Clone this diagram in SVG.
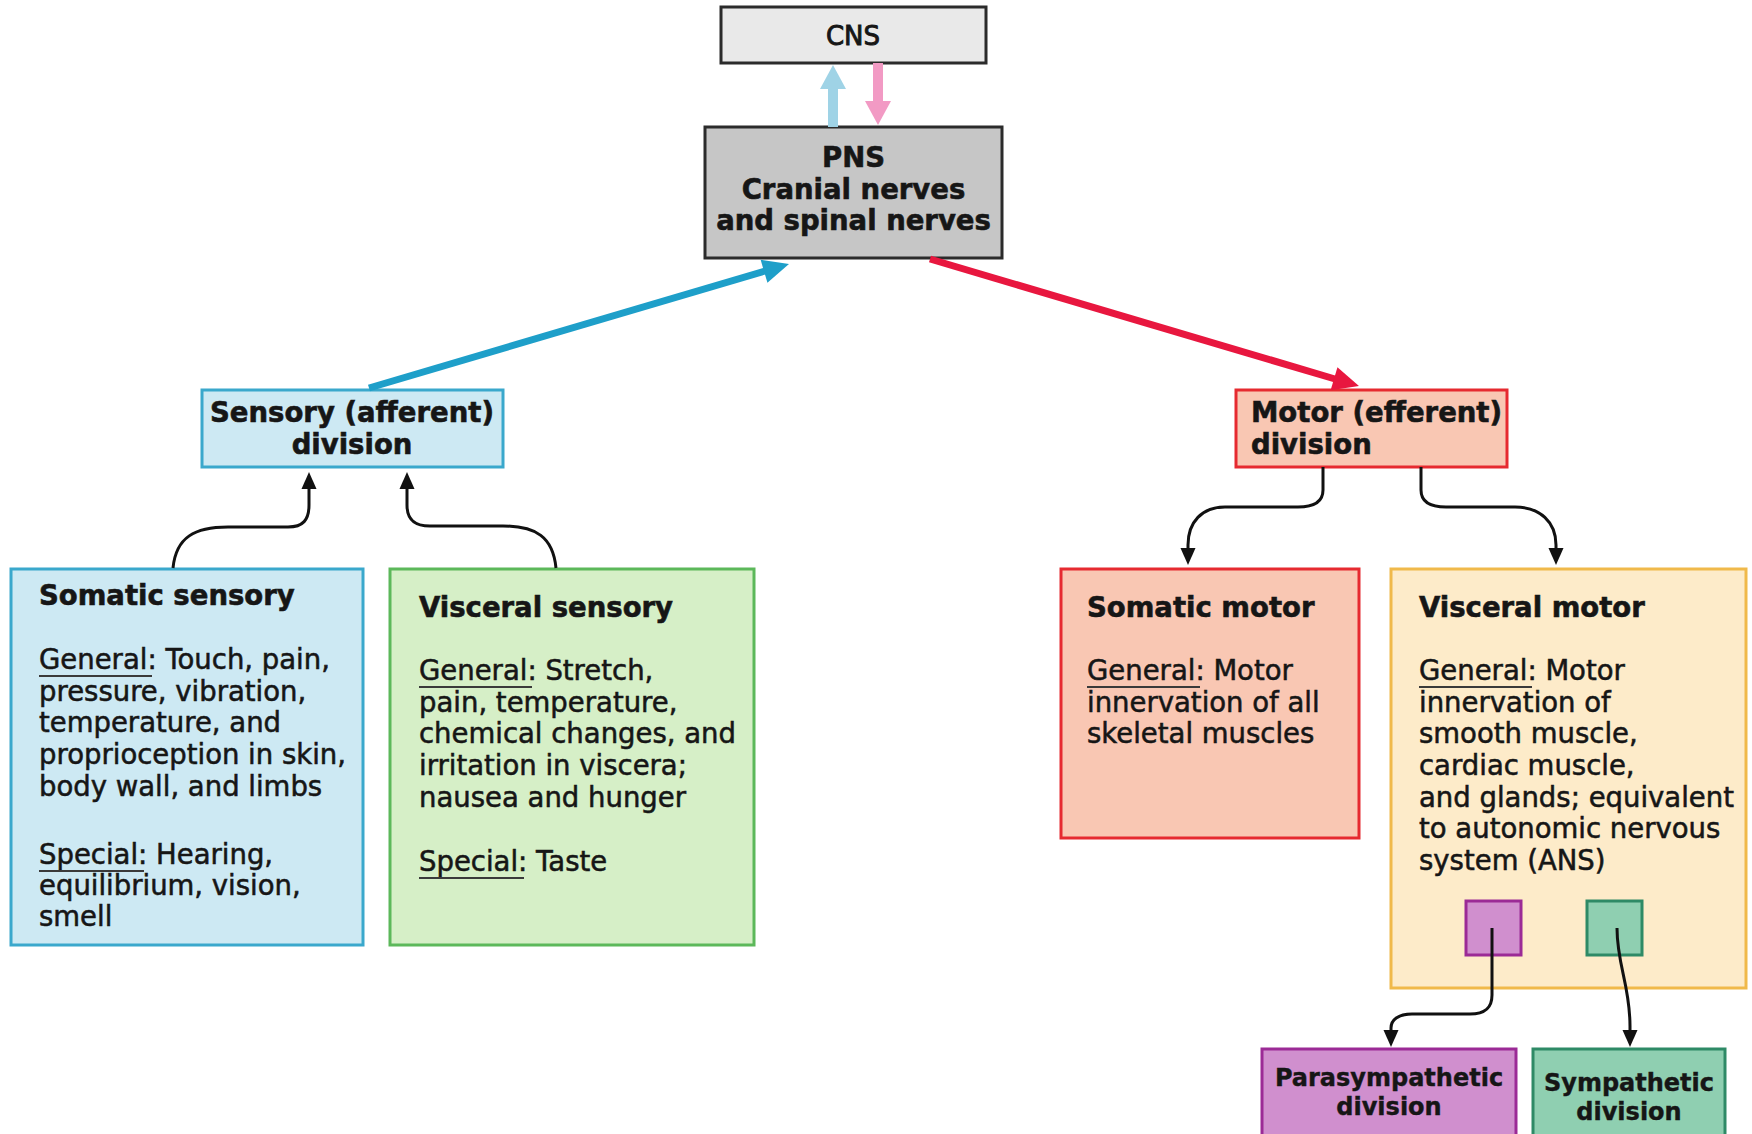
<svg xmlns="http://www.w3.org/2000/svg" width="1752" height="1134" viewBox="0 0 1752 1134">
<style>
.t{font-family:"DejaVu Sans","Liberation Sans",sans-serif;fill:#161616}
.b{font-weight:bold;font-size:27.5px;stroke:#161616;stroke-width:0.6}
.r{font-size:27.5px;stroke:#161616;stroke-width:0.55}
.s{font-weight:bold;font-size:24px;stroke:#161616;stroke-width:0.4}
.c{text-anchor:middle}
.conn{fill:none;stroke:#111;stroke-width:3}
.ul{stroke:#3a3a3a;stroke-width:2.2}
.box{stroke-width:3}
</style>
<defs>
<marker id="ah" markerUnits="userSpaceOnUse" markerWidth="18" markerHeight="16" refX="1" refY="7.5" orient="auto" overflow="visible"><path d="M0,0 L17,7.5 L0,15 z" fill="#111"/></marker>
<marker id="ahBlue" markerUnits="userSpaceOnUse" markerWidth="28" markerHeight="24" refX="1" refY="12" orient="auto" overflow="visible"><path d="M0,0 L26,12 L0,24 z" fill="#1e9fc9"/></marker>
<marker id="ahRed" markerUnits="userSpaceOnUse" markerWidth="28" markerHeight="24" refX="1" refY="12" orient="auto" overflow="visible"><path d="M0,0 L26,12 L0,24 z" fill="#e8173f"/></marker>
</defs>
<rect width="1752" height="1134" fill="#ffffff"/>

<g id="cns">
<rect class="box" x="721" y="7" width="265" height="56" fill="#e9e9e9" stroke="#2b2b2b"/>
<text class="t c" x="853" y="45" font-size="26" stroke="#161616" stroke-width="0.9">CNS</text>
</g>

<g id="pns">
<rect class="box" x="705" y="127" width="297" height="131" fill="#c6c6c6" stroke="#2b2b2b"/>
<text class="t b c" x="853.5" y="167">PNS</text>
<text class="t b c" x="853.5" y="199">Cranial nerves</text>
<text class="t b c" x="853.5" y="230">and spinal nerves</text>
</g>

<g id="sensory">
<rect class="box" x="202" y="390" width="301" height="77" fill="#cde9f3" stroke="#3aa8cc"/>
<text class="t b c" x="352" y="422">Sensory (afferent)</text>
<text class="t b c" x="352" y="454">division</text>
</g>

<g id="motor">
<rect class="box" x="1236" y="390" width="271" height="77" fill="#f9c7b3" stroke="#e62a30"/>
<text class="t b" x="1251" y="422">Motor (efferent)</text>
<text class="t b" x="1251" y="454">division</text>
</g>

<g id="somatic-sensory">
<rect class="box" x="11" y="569" width="352" height="376" fill="#cde9f3" stroke="#3aa8cc"/>
<text class="t b" x="39" y="605">Somatic sensory</text>
<text class="t r" x="39" y="669">General: Touch, pain,</text>
<text class="t r" x="39" y="701">pressure, vibration,</text>
<text class="t r" x="39" y="732">temperature, and</text>
<text class="t r" x="39" y="764">proprioception in skin,</text>
<text class="t r" x="39" y="796">body wall, and limbs</text>
<text class="t r" x="39" y="864">Special: Hearing,</text>
<text class="t r" x="39" y="895">equilibrium, vision,</text>
<text class="t r" x="39" y="926">smell</text>
<line class="ul" x1="39" y1="676" x2="152" y2="676"/>
<line class="ul" x1="39" y1="871" x2="144" y2="871"/>
</g>

<g id="visceral-sensory">
<rect class="box" x="390" y="569" width="364" height="376" fill="#d6efc7" stroke="#5cb85a"/>
<text class="t b" x="419" y="617">Visceral sensory</text>
<text class="t r" x="419" y="680">General: Stretch,</text>
<text class="t r" x="419" y="712">pain, temperature,</text>
<text class="t r" x="419" y="743">chemical changes, and</text>
<text class="t r" x="419" y="775">irritation in viscera;</text>
<text class="t r" x="419" y="807">nausea and hunger</text>
<text class="t r" x="419" y="871">Special: Taste</text>
<line class="ul" x1="419" y1="687" x2="532" y2="687"/>
<line class="ul" x1="419" y1="878" x2="524" y2="878"/>
</g>

<g id="somatic-motor">
<rect class="box" x="1061" y="569" width="298" height="269" fill="#f9c7b3" stroke="#e62a30"/>
<text class="t b" x="1087" y="617">Somatic motor</text>
<text class="t r" x="1087" y="680">General: Motor</text>
<text class="t r" x="1087" y="712">innervation of all</text>
<text class="t r" x="1087" y="743">skeletal muscles</text>
<line class="ul" x1="1087" y1="687" x2="1200" y2="687"/>
</g>

<g id="visceral-motor">
<rect class="box" x="1391" y="569" width="355" height="419" fill="#fdebc9" stroke="#f0b94a"/>
<text class="t b" x="1419" y="617">Visceral motor</text>
<text class="t r" x="1419" y="680">General: Motor</text>
<text class="t r" x="1419" y="712">innervation of</text>
<text class="t r" x="1419" y="743">smooth muscle,</text>
<text class="t r" x="1419" y="775">cardiac muscle,</text>
<text class="t r" x="1419" y="807">and glands; equivalent</text>
<text class="t r" x="1419" y="838">to autonomic nervous</text>
<text class="t r" x="1419" y="870">system (ANS)</text>
<line class="ul" x1="1419" y1="687" x2="1532" y2="687"/>
<rect class="box" x="1466" y="901" width="55" height="54" fill="#d08fce" stroke="#9b2a96"/>
<rect class="box" x="1587" y="901" width="55" height="54" fill="#8fcfb1" stroke="#2e8a66"/>
</g>

<g id="parasympathetic">
<rect class="box" x="1262" y="1049" width="254" height="95" fill="#d08fce" stroke="#9b2a96"/>
<text class="t s c" x="1389" y="1086">Parasympathetic</text>
<text class="t s c" x="1389" y="1115">division</text>
</g>

<g id="sympathetic">
<rect class="box" x="1533" y="1049" width="192" height="95" fill="#8fcfb1" stroke="#2e8a66"/>
<text class="t s c" x="1629" y="1091">Sympathetic</text>
<text class="t s c" x="1629" y="1120">division</text>
</g>

<g id="connectors">
<rect x="828" y="86" width="10" height="41" fill="#9fd3e6"/>
<polygon points="820,89 846,89 833,65" fill="#9fd3e6"/>
<rect x="873" y="63" width="10" height="41" fill="#f29ac4"/>
<polygon points="865,101 891,101 878,125" fill="#f29ac4"/>
<line x1="369" y1="388" x2="765" y2="271" stroke="#1e9fc9" stroke-width="7" marker-end="url(#ahBlue)"/>
<line x1="930" y1="259" x2="1335" y2="379" stroke="#e8173f" stroke-width="7" marker-end="url(#ahRed)"/>
<path class="conn" d="M173,568 C176,537 195,527 228,527 L288,527 C303,527 309,520 309,505 L309,488" marker-end="url(#ah)"/>
<path class="conn" d="M556,568 C553,537 536,526 503,526 L430,526 C414,526 407,519 407,505 L407,488" marker-end="url(#ah)"/>
<path class="conn" d="M1323,467 L1323,490 C1323,502 1314,507 1298,507 L1225,507 C1202,507 1188,522 1188,545 L1188,549" marker-end="url(#ah)"/>
<path class="conn" d="M1421,467 L1421,490 C1421,502 1430,507 1446,507 L1515,507 C1540,507 1556,522 1556,545 L1556,549" marker-end="url(#ah)"/>
<path class="conn" d="M1492,928 L1492,995 C1492,1008 1485,1014 1470,1014 L1412,1014 C1398,1014 1391,1020 1391,1028 L1391,1031" marker-end="url(#ah)"/>
<path class="conn" d="M1617,928 C1617,965 1630,985 1630,1026 L1630,1031" marker-end="url(#ah)"/>
</g>
</svg>
